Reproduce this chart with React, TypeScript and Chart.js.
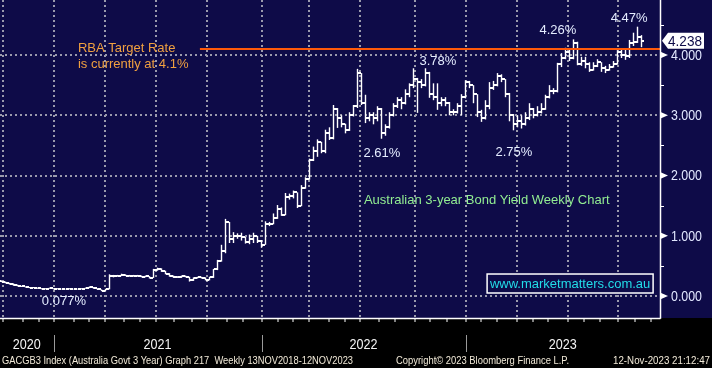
import React, { useEffect, useRef } from 'react';
import { Chart, registerables } from 'chart.js';
Chart.register(...registerables);

// Weekly OHLC of GACGB3 (Australian 3-year government bond yield), % — index = week
const opens = [
  0.25,0.24,0.22,0.20,0.18,0.17,0.16,0.15,0.14,0.13,
  0.13,0.12,0.12,0.13,0.12,0.12,0.11,0.12,0.12,0.11,
  0.12,0.12,0.13,0.15,0.13,0.11,0.09,0.11,0.34,0.33,
  0.34,0.35,0.34,0.34,0.33,0.34,0.32,0.33,0.30,0.43,
  0.45,0.42,0.37,0.33,0.31,0.31,0.33,0.32,0.26,0.30,
  0.31,0.30,0.27,0.31,0.44,0.58,0.74,1.23,0.95,1.00,
  0.99,0.98,0.90,0.95,1.00,0.92,0.85,1.20,1.20,1.30,
  1.45,1.35,1.65,1.66,1.72,1.50,1.80,1.95,2.25,2.40,
  2.55,2.40,2.70,2.62,3.10,2.95,2.85,2.75,3.00,3.15,
  3.70,3.20,2.95,3.00,2.95,3.10,2.70,2.80,3.00,3.15,
  3.25,3.20,3.35,3.50,3.60,3.55,3.50,3.70,3.35,3.30,
  3.20,3.25,3.20,3.05,3.05,3.15,3.30,3.55,3.50,3.35,
  3.05,2.95,3.15,3.45,3.50,3.65,3.60,3.35,3.00,2.85,
  2.90,2.85,2.95,3.10,3.00,3.05,3.10,3.30,3.40,3.40,
  3.85,3.95,4.05,3.95,4.20,3.85,3.90,3.85,3.75,3.82,
  3.88,3.78,3.75,3.80,3.85,4.05,4.00,3.98,4.20,4.22,
  4.30,
];
const highs = [
  0.26,0.24,0.22,0.21,0.19,0.17,0.16,0.15,0.15,0.14,
  0.13,0.13,0.14,0.13,0.13,0.12,0.12,0.13,0.12,0.12,
  0.13,0.14,0.16,0.15,0.13,0.11,0.12,0.36,0.35,0.35,
  0.37,0.36,0.35,0.35,0.35,0.34,0.34,0.33,0.45,0.47,
  0.46,0.42,0.38,0.34,0.33,0.34,0.34,0.32,0.31,0.32,
  0.32,0.31,0.32,0.45,0.60,0.85,1.28,1.23,1.06,1.04,
  1.05,0.98,1.02,1.05,1.00,0.93,1.24,1.23,1.37,1.51,
  1.47,1.71,1.70,1.75,1.72,1.84,1.97,2.28,2.48,2.60,
  2.56,2.76,2.80,3.17,3.12,3.00,2.86,3.05,3.17,3.77,
  3.70,3.34,3.05,3.05,3.15,3.12,2.85,3.05,3.20,3.30,
  3.30,3.43,3.53,3.78,3.62,3.60,3.78,3.72,3.53,3.53,
  3.30,3.30,3.22,3.10,3.20,3.35,3.58,3.57,3.50,3.35,
  3.09,3.25,3.55,3.57,3.70,3.68,3.60,3.37,3.02,3.00,
  3.00,3.05,3.20,3.12,3.15,3.20,3.34,3.50,3.45,3.87,
  4.03,4.12,4.10,4.26,4.22,3.97,3.97,3.88,3.88,3.93,
  3.88,3.82,3.85,3.90,4.08,4.10,4.10,4.25,4.37,4.47,
  4.33,
];
const lows = [
  0.23,0.21,0.19,0.17,0.16,0.15,0.14,0.13,0.13,0.12,
  0.11,0.11,0.12,0.11,0.11,0.11,0.11,0.11,0.11,0.11,
  0.11,0.12,0.13,0.12,0.10,0.08,0.08,0.11,0.31,0.32,
  0.33,0.33,0.32,0.32,0.32,0.31,0.31,0.29,0.30,0.42,
  0.40,0.36,0.32,0.30,0.30,0.30,0.31,0.24,0.25,0.29,
  0.29,0.26,0.26,0.30,0.43,0.57,0.71,0.88,0.88,0.95,
  0.92,0.87,0.86,0.88,0.88,0.80,0.85,1.16,1.19,1.28,
  1.33,1.34,1.60,1.62,1.46,1.49,1.78,1.93,2.24,2.31,
  2.37,2.37,2.59,2.60,2.79,2.80,2.70,2.74,2.98,3.12,
  3.17,2.87,2.90,2.85,2.90,2.61,2.66,2.78,2.98,3.12,
  3.10,3.18,3.30,3.45,3.04,3.45,3.48,3.29,3.25,3.09,
  3.15,3.15,3.00,3.00,3.03,3.00,3.28,3.45,3.20,2.97,
  2.89,2.93,3.10,3.42,3.48,3.55,3.30,2.90,2.75,2.80,
  2.78,2.83,2.92,2.95,2.98,3.03,3.09,3.28,3.35,3.38,
  3.80,3.93,3.90,3.93,3.83,3.82,3.78,3.72,3.74,3.80,
  3.72,3.70,3.74,3.79,3.84,3.95,3.92,3.95,4.15,4.20,
  4.13,
];
const closes = [
  0.24,0.22,0.20,0.18,0.17,0.16,0.15,0.14,0.13,0.13,
  0.12,0.12,0.13,0.12,0.12,0.11,0.12,0.12,0.11,0.12,
  0.12,0.13,0.15,0.13,0.11,0.09,0.11,0.34,0.33,0.34,
  0.35,0.34,0.34,0.33,0.34,0.32,0.33,0.30,0.43,0.45,
  0.42,0.37,0.33,0.31,0.31,0.33,0.32,0.26,0.30,0.31,
  0.30,0.27,0.31,0.44,0.58,0.74,1.23,0.95,1.00,0.99,
  0.98,0.90,0.95,1.00,0.92,0.85,1.20,1.20,1.30,1.45,
  1.35,1.65,1.66,1.72,1.50,1.80,1.95,2.25,2.40,2.55,
  2.40,2.70,2.62,3.10,2.95,2.85,2.75,3.00,3.15,3.70,
  3.20,2.95,3.00,2.95,3.10,2.70,2.80,3.00,3.15,3.25,
  3.20,3.35,3.50,3.60,3.55,3.50,3.70,3.35,3.30,3.20,
  3.25,3.20,3.05,3.05,3.15,3.30,3.55,3.50,3.35,3.05,
  2.95,3.15,3.45,3.50,3.65,3.60,3.35,3.00,2.85,2.90,
  2.85,2.95,3.10,3.00,3.05,3.10,3.30,3.40,3.40,3.85,
  3.95,4.05,3.95,4.20,3.85,3.90,3.85,3.75,3.82,3.88,
  3.78,3.75,3.80,3.85,4.05,4.00,3.98,4.20,4.22,4.30,
  4.238,
];

// Month-start tick positions in week units (Oct 2020 ... Dec 2023)
const monthTicks = [
  0.25, 5.25, 9.25, 13, 18, 21.75, 25.75, 30.5, 34.5, 38.5, 43, 47.5,
  51.25, 56.25, 60.25, 65, 69, 72.75, 76.75, 81.75, 85.75, 89.5, 94.25, 98.25,
  103.25, 107.25, 111.25, 116, 120, 123.75, 128.75, 132.75, 136.5, 141.5, 145.5, 149.5,
  154, 158.25, 162.25,
];
const yearLabels = ['2020', '2021', '2022', '2023'];
const yearStartMonthIdx = [3, 15, 27];
const yMajor = [0, 1, 2, 3, 4];
const yMinor = [0.5, 1.5, 2.5, 3.5, 4.5];
const rbaRate = 4.1;
const rbaStartWeek = 49.6;
const lastValue = 4.238;

const peakLabels = [
  { text: '4.47%', x: 156.9, y: 4.61 },
  { text: '4.26%', x: 139.1, y: 4.415 },
  { text: '3.78%', x: 109.1, y: 3.9 },
  { text: '2.61%', x: 95.1, y: 2.37 },
  { text: '2.75%', x: 128.1, y: 2.39 },
  { text: '0.077%', x: 15.6, y: -0.083 },
];
const rbaText = ['RBA Target Rate', 'is currently at 4.1%'];
const titleText = 'Australian 3-year Bond Yield Weekly Chart';
const siteText = 'www.marketmatters.com.au';
const footer = [
  { text: 'GACGB3 Index (Australia Govt 3 Year) Graph 217  Weekly 13NOV2018-12NOV2023', x: 2, w: 351 },
  { text: 'Copyright\u00A9 2023 Bloomberg Finance L.P.', x: 396, w: 173 },
  { text: '12-Nov-2023 21:12:47', x: 613, w: 97 },
];

const NAVY = '#0e0b48';
const GRID = '#9a9aac';
const FONT = '"Liberation Sans", Arial, sans-serif';

export default function App() {
  const ref = useRef<HTMLCanvasElement>(null);

  useEffect(() => {
    const canvas = ref.current!;
    const mkTick = (left: boolean) => {
      const c = document.createElement('canvas');
      c.width = 5;
      c.height = 2;
      const g = c.getContext('2d')!;
      g.fillStyle = '#ffffff';
      g.fillRect(left ? 0 : 3, 0, 2, 2);
      return c;
    };
    const openImg = mkTick(true);
    const closeImg = mkTick(false);

    const bgPlugin = {
      id: 'bgPlugin',
      beforeDraw(chart: any) {
        const { ctx, width, height, chartArea } = chart;
        ctx.save();
        ctx.fillStyle = '#000000';
        ctx.fillRect(0, 0, width, height);
        ctx.fillStyle = NAVY;
        ctx.fillRect(0, 0, width, chartArea.bottom);
        ctx.restore();
      },
    };

    const overlayPlugin = {
      id: 'overlayPlugin',
      afterDraw(chart: any) {
        const { ctx, chartArea, scales } = chart;
        const xs = scales.x;
        const ys = scales.y;
        const L = chartArea.left, R = chartArea.right, T = chartArea.top, B = chartArea.bottom;
        ctx.save();
        // axis lines
        ctx.strokeStyle = '#ffffff';
        ctx.lineWidth = 1.5;
        ctx.beginPath();
        ctx.moveTo(R + 0.5, T);
        ctx.lineTo(R + 0.5, B + 0.75);
        ctx.moveTo(L, B + 0.5);
        ctx.lineTo(R + 0.5, B + 0.5);
        ctx.stroke();

        // right axis: minor ticks
        ctx.lineWidth = 1;
        ctx.beginPath();
        yMinor.forEach((v) => {
          const y = Math.round(ys.getPixelForValue(v)) + 0.5;
          ctx.moveTo(R, y);
          ctx.lineTo(R + 4, y);
        });
        ctx.stroke();

        // right axis: major markers and labels
        ctx.font = `14px ${FONT}`;
        ctx.textBaseline = 'middle';
        ctx.textAlign = 'left';
        yMajor.forEach((v) => {
          const y = ys.getPixelForValue(v);
          ctx.fillStyle = '#ffffff';
          ctx.beginPath();
          ctx.moveTo(R, y - 3.5);
          ctx.lineTo(R + 8, y);
          ctx.lineTo(R, y + 3.5);
          ctx.closePath();
          ctx.fill();
          ctx.fillStyle = '#e2e8ff';
          ctx.fillText(v.toFixed(3), R + 11, y + 1, 31);
        });

        // last value tag
        const ly = ys.getPixelForValue(lastValue);
        ctx.fillStyle = '#ffffff';
        ctx.beginPath();
        ctx.moveTo(R + 2, ly);
        ctx.lineTo(R + 8, ly - 8);
        ctx.lineTo(R + 44, ly - 8);
        ctx.lineTo(R + 44, ly + 8);
        ctx.lineTo(R + 8, ly + 8);
        ctx.closePath();
        ctx.fill();
        ctx.fillStyle = NAVY;
        ctx.fillText(lastValue.toFixed(3), R + 8, ly + 1, 34);

        // year separators and labels
        const bounds = [L, ...yearStartMonthIdx.map((i) => xs.getPixelForValue(monthTicks[i])), R];
        ctx.strokeStyle = '#9a9a9a';
        ctx.lineWidth = 1;
        ctx.beginPath();
        yearStartMonthIdx.forEach((i) => {
          const x = Math.round(xs.getPixelForValue(monthTicks[i])) + 0.5;
          ctx.moveTo(x, B + 17);
          ctx.lineTo(x, B + 34);
        });
        ctx.stroke();
        ctx.font = `15px ${FONT}`;
        ctx.textAlign = 'center';
        ctx.fillStyle = '#f4f4f4';
        yearLabels.forEach((lab, i) => {
          const cx = (bounds[i] + bounds[i + 1]) / 2;
          ctx.fillText(lab, cx, B + 27, 28);
        });

        // footer
        ctx.font = `11px ${FONT}`;
        ctx.textAlign = 'left';
        ctx.fillStyle = '#f2ead8';
        footer.forEach((f) => ctx.fillText(f.text, f.x, B + 42.5, f.w));

        // peak / trough annotations
        ctx.font = `13px ${FONT}`;
        ctx.textAlign = 'center';
        ctx.fillStyle = '#e4ecff';
        peakLabels.forEach((p) => {
          ctx.fillText(p.text, xs.getPixelForValue(p.x), ys.getPixelForValue(p.y));
        });

        // RBA note
        ctx.textAlign = 'left';
        ctx.fillStyle = '#f0a040';
        ctx.fillText(rbaText[0], xs.getPixelForValue(19.1), ys.getPixelForValue(4.116));
        ctx.fillText(rbaText[1], xs.getPixelForValue(19.1), ys.getPixelForValue(3.85));

        // title
        ctx.fillStyle = '#92ee92';
        ctx.fillText(titleText, xs.getPixelForValue(90.6), ys.getPixelForValue(1.593), 248);

        // website box
        const bx1 = xs.getPixelForValue(121.4), bx2 = xs.getPixelForValue(162.9);
        const by1 = ys.getPixelForValue(0.365), by2 = ys.getPixelForValue(0.05);
        ctx.fillStyle = NAVY;
        ctx.fillRect(bx1, by1, bx2 - bx1, by2 - by1);
        ctx.strokeStyle = '#ffffff';
        ctx.lineWidth = 1.5;
        ctx.strokeRect(bx1, by1, bx2 - bx1, by2 - by1);
        ctx.fillStyle = '#22dce8';
        ctx.textAlign = 'center';
        ctx.fillText(siteText, (bx1 + bx2) / 2, (by1 + by2) / 2 + 1, 162);
        ctx.restore();
      },
    };

    const chart = new Chart(canvas, {
      type: 'bar',
      data: {
        datasets: [
          {
            type: 'line',
            data: [
              { x: rbaStartWeek, y: rbaRate },
              { x: 164.625, y: rbaRate },
            ],
            borderColor: '#ff5a0a',
            borderWidth: 2.2,
            pointRadius: 0,
            order: 0,
          } as any,
          {
            type: 'bar',
            data: lows.map((l, i) => ({ x: i, y: [l, highs[i]] })),
            backgroundColor: '#ffffff',
            barThickness: 1.4,
            inflateAmount: 0,
            borderWidth: 0,
            grouped: false,
            order: 3,
          } as any,
          {
            type: 'line',
            showLine: false,
            data: opens.map((o, i) => ({ x: i, y: o })),
            pointStyle: openImg,
            pointRadius: 2,
            order: 2,
          } as any,
          {
            type: 'line',
            showLine: false,
            data: closes.map((c, i) => ({ x: i, y: c })),
            pointStyle: closeImg,
            pointRadius: 2,
            order: 1,
          } as any,
        ],
      },
      options: {
        responsive: false,
        animation: false,
        events: [],
        devicePixelRatio: 1,
        layout: { padding: 0, autoPadding: false },
        plugins: {
          legend: { display: false },
          tooltip: { enabled: false },
        },
        scales: {
          x: {
            type: 'linear',
            min: -0.375,
            max: 164.625,
            offset: false,
            afterBuildTicks: (s: any) => {
              s.ticks = monthTicks.map((v) => ({ value: v }));
            },
            afterFit: (s: any) => {
              s.height = 50;
              s.paddingLeft = 0;
              s.paddingRight = 0;
            },
            ticks: { display: false },
            grid: {
              offset: false,
              color: (c: any) => (c.index % 3 === 0 ? GRID : 'rgba(0,0,0,0)'),
              lineWidth: 2,
              drawTicks: true,
              tickLength: 4,
              tickColor: '#ffffff',
              tickWidth: 1,
              tickBorderDash: [],
            },
            border: { display: false, dash: [2, 3] },
          },
          y: {
            type: 'linear',
            position: 'right',
            min: -0.365,
            max: 4.913,
            afterBuildTicks: (s: any) => {
              s.ticks = yMajor.map((v) => ({ value: v }));
            },
            afterFit: (s: any) => {
              s.width = 52;
              s.paddingTop = 0;
              s.paddingBottom = 0;
            },
            ticks: { display: false },
            grid: { color: GRID, lineWidth: 2, drawTicks: false },
            border: { display: false, dash: [2, 3] },
          },
        },
      } as any,
      plugins: [bgPlugin, overlayPlugin],
    });
    return () => chart.destroy();
  }, []);

  return (
    <div style={{ position: 'absolute', left: 0, top: 0, width: 712, height: 368, background: '#000' }}>
      <canvas ref={ref} width={712} height={368} style={{ display: 'block', width: 712, height: 368 }} />
    </div>
  );
}
